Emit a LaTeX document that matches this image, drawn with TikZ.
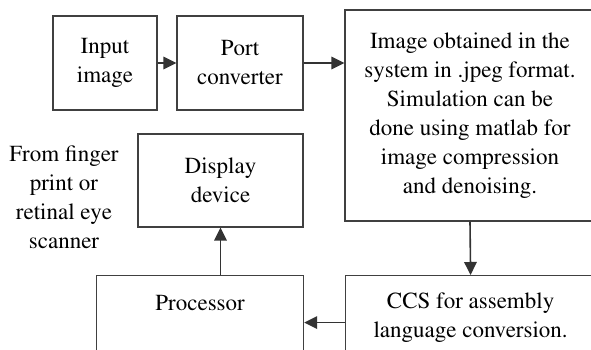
\documentclass[tikz,border=0pt]{standalone}
\usepackage[T1]{fontenc}
\usepackage{times}
\usetikzlibrary{arrows.meta,calc}
\begin{document}
\begin{tikzpicture}[x=1pt,y=-1pt,
  box/.style={draw=black!75,line width=1.2pt,rectangle,inner sep=0pt,align=center,font=\rmfamily\fontsize{23}{29}\selectfont},
  txt/.style={inner sep=0pt,align=center,font=\rmfamily\fontsize{23}{29}\selectfont},
  arr/.style={draw=black!80,line width=1.6pt,-{Triangle[length=13pt,width=12.5pt]}}]
\useasboundingbox (0,0) rectangle (591,350);
\clip (0,0) rectangle (591,350);
\fill[white] (0,0) rectangle (591,350);
\node[box,minimum width=104pt,minimum height=94pt] (inp) at (105,63) {Input\\image};
\node[box,minimum width=126pt,minimum height=94pt] (port) at (240,63) {Port\\converter};
\node[box,minimum width=250pt,minimum height=211pt] (big) at (470,115.5)
  {Image obtained in the\\system in .jpeg format.\\Simulation can be\\done using matlab for\\image compression\\and denoising.};
\node[box,minimum width=165pt,minimum height=93pt] (disp) at (220.5,180.5) {Display\\device};
\node[box,minimum width=207pt,minimum height=100pt,anchor=north west] (proc) at (96,275) {};
\node[txt] (proct) at ($(proc.north)+(0,28)$) {Processor};
\node[box,minimum width=250pt,minimum height=84pt,anchor=north west] (ccs) at (345,275) {CCS for assembly\\language conversion.};
\node[txt] (src) at (64,197) {From finger\\print or\\retinal eye\\scanner};
\draw[arr] (inp.east) -- (port.west);
\draw[arr] (port.east) -- (port.east -| big.west);
\draw[arr] (big.south) -- (ccs.north);
\coordinate (c1) at ([yshift=-5pt]ccs.west);
\draw[arr] (c1) -- (c1 -| proc.east);
\draw[arr] (disp.south |- proc.north) -- (disp.south);
\end{tikzpicture}
\end{document}
